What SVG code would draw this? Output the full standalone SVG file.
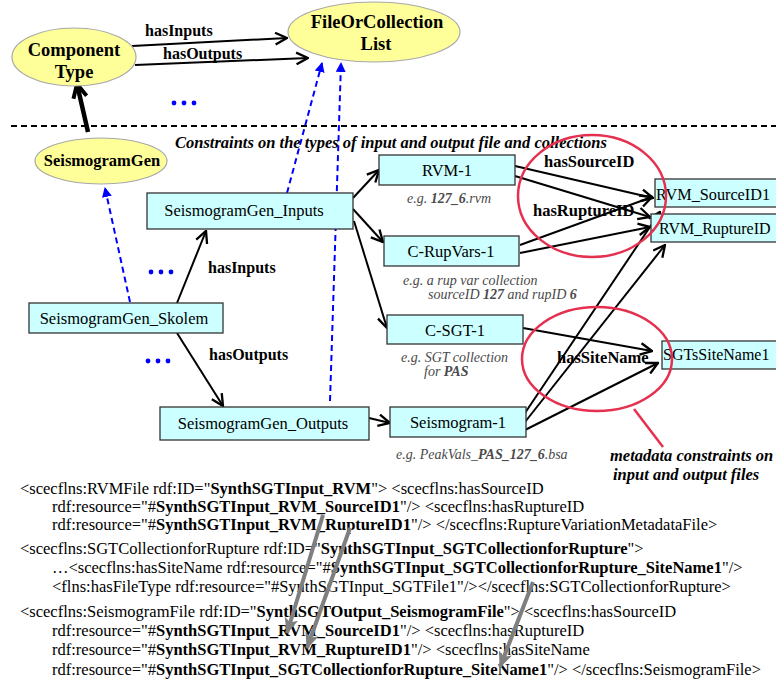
<svg xmlns="http://www.w3.org/2000/svg" width="776" height="681" viewBox="0 0 776 681">
<defs>
<style>
text{font-family:"Liberation Serif","Times New Roman",serif;fill:#000}
.box{fill:#ccffff;stroke:#333;stroke-width:1.3}
.oval{fill:#ffff99;stroke:#a8a8a8;stroke-width:1.2}
.nl{font-size:16.5px;text-anchor:middle}
.nr{font-size:16px}
.ob{font-size:18.5px;font-weight:bold;text-anchor:middle}
.rel{font-size:16px;font-weight:bold}
.cap{font-size:14px;font-style:italic;fill:#4a4a4a}
.cap tspan.b{font-weight:bold}
.bi{font-size:16.5px;font-weight:bold;font-style:italic}
.code{font-size:16.5px}
.code tspan.b{font-weight:bold}
.arr{stroke:#000;stroke-width:2;fill:none;marker-end:url(#ah)}
.blu{stroke:#0000ff;stroke-width:2;fill:none;stroke-dasharray:6 4;marker-end:url(#bh)}
.gry{stroke:#7f7f7f;stroke-width:4;fill:none;marker-end:url(#gh)}
.red{stroke:#e5304f;stroke-width:2.5;fill:none}
.dot{fill:#0000ff}
</style>
<marker id="ah" markerUnits="userSpaceOnUse" markerWidth="14" markerHeight="14" viewBox="0 0 12 12" refX="11" refY="6" orient="auto">
<path d="M1,1 L11,6 L1,11" fill="none" stroke="#000" stroke-width="2"/>
</marker>
<marker id="th" markerUnits="userSpaceOnUse" markerWidth="18" markerHeight="18" viewBox="0 0 16 16" refX="14" refY="8" orient="auto">
<path d="M2,2 L14,8 L2,14" fill="none" stroke="#000" stroke-width="3.5"/>
</marker>
<marker id="bh" markerUnits="userSpaceOnUse" markerWidth="10" markerHeight="10" viewBox="0 0 10 10" refX="9" refY="5" orient="auto">
<path d="M0,0 L10,5 L0,10 Z" fill="#0000ff"/>
</marker>
<marker id="gh" markerUnits="userSpaceOnUse" markerWidth="16" markerHeight="16" viewBox="0 0 16 16" refX="15" refY="8" orient="auto">
<path d="M0,1 L16,8 L0,15 L4,8 Z" fill="#7f7f7f"/>
</marker>
</defs>

<g id="connectors">
<path class="arr" d="M132,46 L287,38"/>
<path class="arr" d="M135,65 L308,58"/>
<path d="M88,132 L77,84" stroke="#000" stroke-width="4.5" fill="none" marker-end="url(#th)"/>
<path class="blu" d="M287,193 L322,63"/>
<path class="blu" d="M330,401 L341,63"/>
<path class="blu" d="M130,302 L105,188"/>
<path class="arr" d="M177,303 L206,231"/>
<path class="arr" d="M177,333 L223,406"/>
<path class="arr" d="M353,198 L379,170"/>
<path class="arr" d="M353,209 L383,242"/>
<path class="arr" d="M354,221 L387,328"/>
<path class="arr" d="M369,418 L390,423"/>
<path class="arr" d="M515,166 L653,198"/>
<path class="arr" d="M515,176 L650,217"/>
<path class="arr" d="M520,245 L652,197"/>
<path class="arr" d="M520,253 L650,227"/>
<path class="arr" d="M523,328 L652,351"/>
<path class="arr" d="M525,413 L660,212"/>
<path class="arr" d="M525,422 L665,245"/>
<path class="arr" d="M525,430 L658,363"/>
<path class="red" d="M634,409 L663,447"/>
</g>

<g id="labels">
<text class="rel" x="145" y="36">hasInputs</text>
<text class="rel" x="163" y="59">hasOutputs</text>
<text class="rel" x="208" y="273">hasInputs</text>
<text class="rel" x="209" y="360">hasOutputs</text>
<text class="rel" x="544" y="167" style="font-size:16.5px">hasSourceID</text>
<text class="rel" x="533" y="216" style="font-size:16.5px">hasRuptureID</text>
<text class="rel" x="557" y="363" style="font-size:16.5px">hasSiteName</text>
</g>

<g id="separator">
<line x1="11" y1="126" x2="776" y2="126" stroke="#000" stroke-width="2" stroke-dasharray="6 4"/>
<text class="bi" x="175" y="148">Constraints on the types of input and output file and collections</text>
</g>

<g id="dots">
<circle class="dot" cx="174" cy="103" r="2.4"/><circle class="dot" cx="184" cy="103" r="2.4"/><circle class="dot" cx="194" cy="103" r="2.4"/>
<circle class="dot" cx="151" cy="272" r="2.4"/><circle class="dot" cx="161" cy="272" r="2.4"/><circle class="dot" cx="171" cy="272" r="2.4"/>
<circle class="dot" cx="148" cy="361" r="2.4"/><circle class="dot" cx="158" cy="361" r="2.4"/><circle class="dot" cx="168" cy="361" r="2.4"/>
</g>

<g id="ComponentType">
<ellipse class="oval" cx="74" cy="57" rx="62" ry="29"/>
<text class="ob" x="74" y="56">Component</text>
<text class="ob" x="74" y="78">Type</text>
</g>
<g id="FileOrCollectionList">
<ellipse class="oval" cx="374" cy="32" rx="86" ry="30"/>
<text class="ob" x="377" y="28">FileOrCollection</text>
<text class="ob" x="376" y="50">List</text>
</g>
<g id="SeismogramGen">
<ellipse class="oval" cx="101" cy="161" rx="66" ry="23"/>
<text class="ob" x="102" y="166" style="font-size:16.5px">SeismogramGen</text>
</g>

<g id="SeismogramGen_Inputs">
<rect class="box" x="147" y="193" width="206" height="36"/>
<text class="nl" x="244" y="216">SeismogramGen_Inputs</text>
</g>
<g id="SeismogramGen_Skolem">
<rect class="box" x="29" y="303" width="194" height="30"/>
<text class="nl" x="124" y="324">SeismogramGen_Skolem</text>
</g>
<g id="SeismogramGen_Outputs">
<rect class="box" x="160" y="407" width="209" height="33"/>
<text class="nl" x="263" y="429">SeismogramGen_Outputs</text>
</g>
<g id="RVM-1">
<rect class="box" x="379" y="155" width="136" height="30"/>
<text class="nl" x="447" y="176">RVM-1</text>
<text class="cap" x="407" y="203">e.g. <tspan class="b">127_6</tspan>.rvm</text>
</g>
<g id="C-RupVars-1">
<rect class="box" x="384" y="236" width="135" height="30"/>
<text class="nl" x="451" y="257">C-RupVars-1</text>
<text class="cap" x="403" y="285">e.g. a rup var collection</text>
<text class="cap" x="428" y="299">sourceID <tspan class="b">127</tspan> and rupID <tspan class="b">6</tspan></text>
</g>
<g id="C-SGT-1">
<rect class="box" x="387" y="315" width="136" height="29"/>
<text class="nl" x="455" y="336">C-SGT-1</text>
<text class="cap" x="401" y="362">e.g. SGT collection</text>
<text class="cap" x="424" y="376">for <tspan class="b">PAS</tspan></text>
</g>
<g id="Seismogram-1">
<rect class="box" x="390" y="407" width="136" height="30"/>
<text class="nl" x="458" y="428">Seismogram-1</text>
<text class="cap" x="396" y="459">e.g. PeakVals_<tspan class="b">PAS_127_6</tspan>.bsa</text>
</g>
<g id="RVM_SourceID1">
<rect class="box" x="655" y="179" width="125" height="28"/>
<text class="nr" x="656" y="200" textLength="114" lengthAdjust="spacingAndGlyphs">RVM_SourceID1</text>
</g>
<g id="RVM_RuptureID">
<rect class="box" x="651" y="214" width="129" height="28"/>
<text class="nr" x="659" y="234">RVM_RuptureID</text>
</g>
<g id="SGTsSiteName1">
<rect class="box" x="662" y="341" width="118" height="28"/>
<text class="nr" x="663" y="360">SGTsSiteName1</text>
</g>

<g id="metadata-constraints">
<ellipse class="red" cx="592" cy="196" rx="74" ry="61"/>
<ellipse class="red" cx="597" cy="359" rx="75" ry="52"/>
<text class="bi" x="610" y="461">metadata constraints on</text>
<text class="bi" x="613" y="480">input and output files</text>
</g>

<g id="rdf-text" class="code">
<text class="code" x="20" y="494">&lt;scecflns:RVMFile rdf:ID="<tspan class="b">SynthSGTInput_RVM</tspan>"&gt; &lt;scecflns:hasSourceID</text>
<text class="code" x="52" y="512">rdf:resource="#<tspan class="b">SynthSGTInput_RVM_SourceID1</tspan>"/&gt; &lt;scecflns:hasRuptureID</text>
<text class="code" x="52" y="530">rdf:resource="#<tspan class="b">SynthSGTInput_RVM_RuptureID1</tspan>"/&gt; &lt;/scecflns:RuptureVariationMetadataFile&gt;</text>
<text class="code" x="20" y="554">&lt;scecflns:SGTCollectionforRupture rdf:ID="<tspan class="b">SynthSGTInput_SGTCollectionforRupture</tspan>"&gt;</text>
<text class="code" x="52" y="573">…&lt;scecflns:hasSiteName rdf:resource="#<tspan class="b">SynthSGTInput_SGTCollectionforRupture_SiteName1</tspan>"/&gt;</text>
<text class="code" x="52" y="592">&lt;flns:hasFileType rdf:resource="#SynthSGTInput_SGTFile1"/&gt;&lt;/scecflns:SGTCollectionforRupture&gt;</text>
<text class="code" x="20" y="617">&lt;scecflns:SeismogramFile rdf:ID="<tspan class="b">SynthSGTOutput_SeismogramFile</tspan>"&gt; &lt;scecflns:hasSourceID</text>
<text class="code" x="52" y="636">rdf:resource="#<tspan class="b">SynthSGTInput_RVM_SourceID1</tspan>"/&gt; &lt;scecflns:hasRuptureID</text>
<text class="code" x="52" y="655">rdf:resource="#<tspan class="b">SynthSGTInput_RVM_RuptureID1</tspan>"/&gt; &lt;scecflns:hasSiteName</text>
<text class="code" x="52" y="675">rdf:resource="#<tspan class="b">SynthSGTInput_SGTCollectionforRupture_SiteName1</tspan>"/&gt; &lt;/scecflns:SeismogramFile&gt;</text>
</g>

<g id="reference-arrows">
<path class="gry" d="M323,515 L287,633"/>
<path class="gry" d="M350,528 L307,648"/>
<path class="gry" d="M533,582 L500,667"/>
</g>
</svg>
